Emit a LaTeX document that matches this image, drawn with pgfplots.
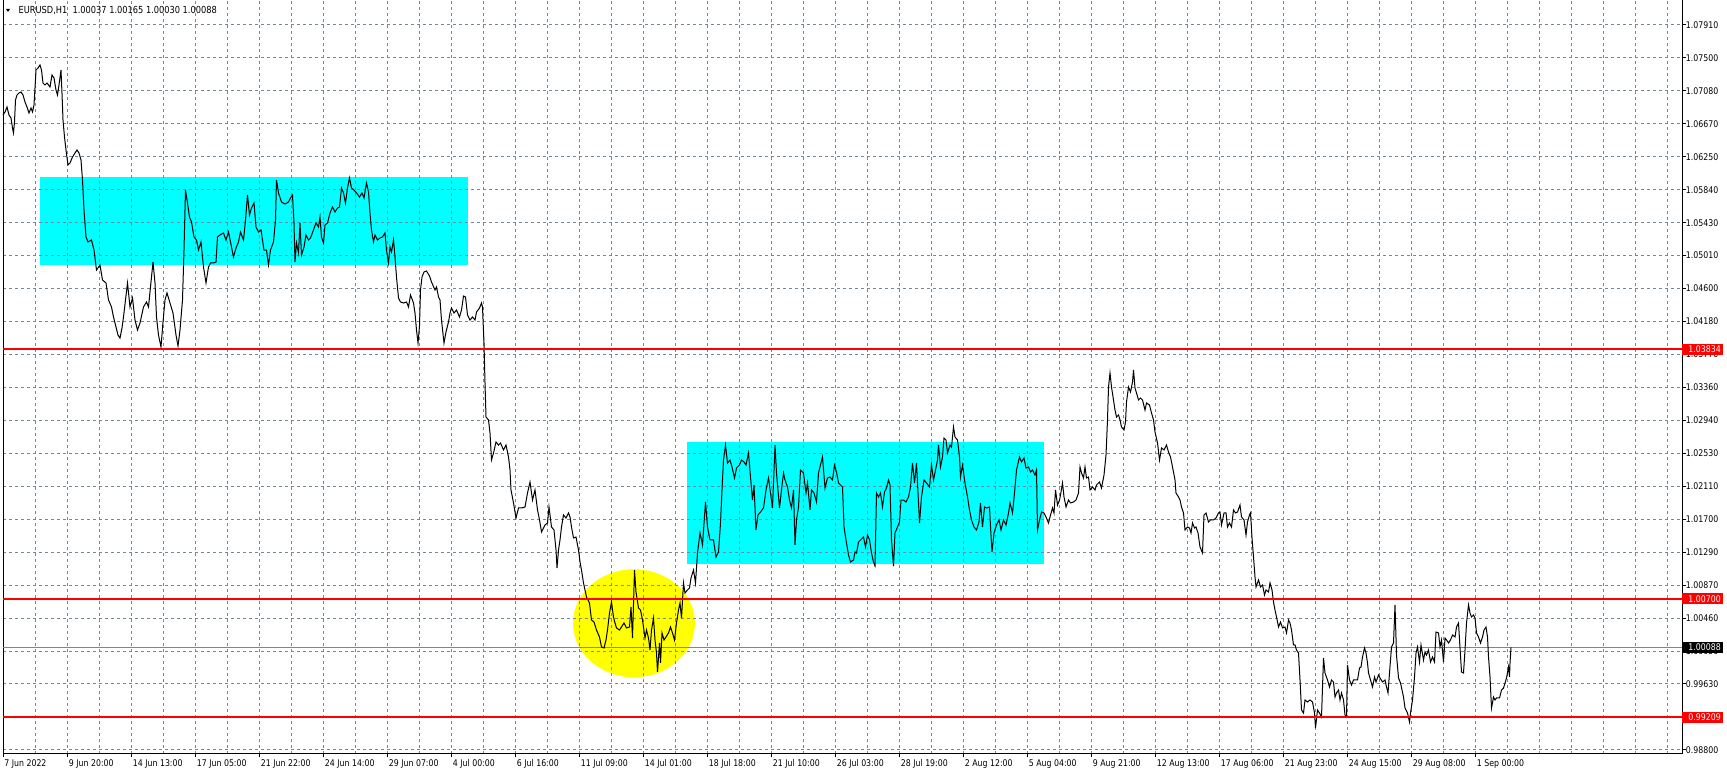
\documentclass[border=0pt]{standalone}
\usepackage{fontspec}
\usepackage{pgfplots}
\usepackage{pgfplotstable}
\pgfplotsset{compat=1.18}
\newfontfamily\mtfont{DejaVu Sans}[FakeStretch=0.85]
\newcommand\mtf{\mtfont\fontsize{4.6bp}{5.5bp}\selectfont}
\newcommand\mttf{\mtfont\fontsize{4.85bp}{5.5bp}\selectfont}
\definecolor{gridc}{RGB}{119,136,153}
\definecolor{mtcyan}{RGB}{0,255,255}
\definecolor{mtyellow}{RGB}{255,255,0}
\definecolor{mtred}{RGB}{255,0,0}

\pgfplotstableread{
x y
3 1.06779
5 1.06817
7 1.06879
9 1.06779
11 1.06741
12.5 1.06616
13.5 1.06553
14.5 1.06691
15.5 1.06967
17 1.07030
19 1.07055
21 1.07068
23 1.07030
25 1.06942
27 1.06879
29 1.06804
31 1.06867
32.5 1.06817
34 1.06905
35.3 1.07181
36 1.07344
38 1.07370
40 1.07407
41.5 1.07344
43 1.07181
45 1.07156
47 1.07181
50 1.07131
52 1.07282
54 1.07244
56 1.07093
57.5 1.07030
59 1.07156
61 1.07344
62 1.07055
63 1.06716
64.5 1.06502
66 1.06339
68 1.06151
70 1.06176
72.5 1.06251
75 1.06301
77 1.06339
79 1.06301
81 1.06213
82.5 1.05962
84 1.05585
86 1.05246
88 1.05183
91.5 1.05208
94 1.05082
96.5 1.04831
100 1.04894
102.5 1.04705
106 1.04668
108.5 1.04454
111.5 1.04366
113.5 1.04240
116 1.04115
118 1.04014
120 1.03976
122 1.04102
123.5 1.04240
127.5 1.04668
130 1.04366
132.5 1.04479
135 1.04202
137.5 1.04077
140 1.04165
143.5 1.04366
146.5 1.04429
148.5 1.04366
151.5 1.04743
153 1.04931
155 1.04668
156.5 1.04240
158.5 1.04014
161 1.03863
163 1.04177
165 1.04454
167 1.04542
170 1.04416
173 1.04290
176 1.04014
178 1.03876
180 1.04077
182.5 1.04454
184 1.05082
185.5 1.05836
187.5 1.05673
189.5 1.05497
191.5 1.05434
194 1.05246
196.5 1.05208
198.5 1.05082
201 1.05183
203.5 1.04869
206 1.04668
208.5 1.04869
210.5 1.04919
213.5 1.04919
216 1.04931
217.5 1.05246
220 1.05271
223.5 1.05296
226 1.05208
228.5 1.05308
230.5 1.05183
233.5 1.04994
236 1.05107
238.5 1.05183
240.5 1.05308
243.5 1.05208
245.5 1.05459
247.5 1.05773
249.5 1.05522
251.5 1.05610
254 1.05673
256 1.05371
258.5 1.05308
261 1.05334
264 1.05082
266.5 1.05082
268.5 1.04894
270.5 1.05082
273.5 1.05183
275.5 1.05459
276.5 1.05962
278.5 1.05799
281.5 1.05685
285 1.05660
288.5 1.05685
290.5 1.05736
292.5 1.05773
294 1.05422
295 1.04931
296.5 1.05170
298.5 1.05045
300 1.05422
301.5 1.05019
304 1.05120
306 1.05271
308.5 1.05208
310.5 1.05233
313.5 1.05334
316 1.05422
318.5 1.05371
320 1.05497
321.5 1.05246
323.5 1.05170
325 1.05396
327.5 1.05422
330 1.05547
332.5 1.05623
335 1.05560
337.5 1.05610
339.5 1.05623
341.5 1.05861
343.5 1.05799
345.5 1.05673
347.5 1.05861
349.5 1.05987
351.5 1.05861
354 1.05836
356.5 1.05799
359.5 1.05748
362 1.05799
364 1.05736
366.5 1.05924
368.5 1.05811
370 1.05547
371.5 1.05334
373.5 1.05183
375 1.05271
377.5 1.05208
380 1.05233
382.5 1.05246
385 1.05296
386.5 1.05082
388.5 1.04919
390 1.05120
391.5 1.05057
393.5 1.05208
395 1.04994
396.5 1.04743
398.5 1.04479
400.5 1.04429
403.5 1.04416
406.5 1.04429
408.5 1.04366
410.5 1.04517
413.5 1.04416
415 1.04290
416.5 1.04077
418 1.03913
419.5 1.04127
420.5 1.04580
422 1.04743
424 1.04806
426.5 1.04818
429.5 1.04755
431.5 1.04680
435 1.04580
436.5 1.04617
438.5 1.04492
440 1.04454
441.5 1.04202
444 1.03913
446 1.04052
448.5 1.04177
450 1.04290
451.5 1.04353
454 1.04290
456.5 1.04328
459.5 1.04240
461.5 1.04328
463.5 1.04504
465.5 1.04492
467.5 1.04265
470 1.04202
472.5 1.04240
475 1.04202
476.5 1.04303
479.5 1.04353
481.5 1.04416
482.5 1.04366
484 1.03913
485 1.03411
486 1.02983
488.5 1.02946
490 1.02782
491.5 1.02443
493.5 1.02531
496 1.02669
498.5 1.02631
500.5 1.02657
503.5 1.02569
506 1.02631
508.5 1.02481
510 1.02317
511 1.02066
513.5 1.01903
516 1.01714
518.5 1.01840
521.5 1.01840
525 1.01852
527.5 1.02028
530 1.02166
532.5 1.01940
535 1.02066
537.5 1.01815
539.5 1.01689
541.5 1.01538
545 1.01626
547.5 1.01651
549 1.01852
551.5 1.01601
554 1.01563
556 1.01312
557 1.01086
558.5 1.01312
560 1.01438
561.5 1.01601
563.5 1.01752
566 1.01714
568.5 1.01777
570 1.01727
571.5 1.01601
573.5 1.01463
576 1.01475
578.5 1.01312
580 1.01161
581.5 1.01060
583.5 1.00897
585 1.00809
586.5 1.00721
589.5 1.00646
591.5 1.00432
594 1.00407
596.5 1.00306
599.5 1.00218
601.5 1.00093
604 1.00080
606 1.00181
607.5 1.00306
609.5 1.00520
611.5 1.00658
613.5 1.00470
615 1.00394
616.5 1.00332
619.5 1.00306
621.5 1.00344
624 1.00394
626.5 1.00332
629.5 1.00344
631 1.00595
632.5 1.00206
634.5 1.01060
636 1.00784
638.5 1.00583
640.5 1.00558
642.5 1.00432
645 1.00206
646.5 1.00306
648.5 1.00206
650 1.00055
651.5 1.00306
653.5 1.00457
655 1.00181
656.5 1.00017
657.5 0.99779
659.5 1.00143
660.5 0.99892
662 1.00269
664 1.00181
666 1.00218
668.5 1.00269
670.5 1.00344
672.5 1.00269
674.5 1.00181
676.5 1.00394
678.5 1.00558
680 1.00646
681.5 1.00457
683.5 1.00897
685 1.00771
687.5 1.00809
689.5 1.00834
691 1.00960
693.5 1.01060
695.5 1.00897
697.5 1.01274
700 1.01526
702.5 1.01375
705.5 1.01915
707.5 1.01601
710 1.01438
713.5 1.01438
716 1.01224
718.5 1.01287
720.5 1.01651
722 1.02066
723.5 1.02443
725.5 1.02631
727.5 1.02405
730 1.02443
732 1.02355
734.5 1.02217
736.5 1.02342
739.5 1.02380
741.5 1.02443
744 1.02418
746 1.02380
748.5 1.02531
750.5 1.02229
752.5 1.01940
754 1.02129
756 1.01563
758 1.01752
760.5 1.01789
763.5 1.01840
766 1.02066
768.5 1.02217
770.5 1.02028
772.5 1.01840
775 1.02631
776.5 1.02280
779.5 1.01840
781.5 1.02066
783.5 1.02280
785 1.02192
787.5 1.02104
789.5 1.01940
791.5 1.01840
793.5 1.02066
795 1.01375
796.5 1.01689
798.5 1.01852
800.5 1.02317
803.5 1.02280
806 1.02028
807.5 1.02154
810 1.01815
811.5 1.02066
814 1.02028
816.5 1.01915
818.5 1.02280
820.5 1.02380
822.5 1.02481
825 1.02091
827.5 1.02217
830 1.02229
832.5 1.02192
834.5 1.02380
836.5 1.02292
838.5 1.02154
840.5 1.02129
842.5 1.02104
844 1.01601
846 1.01438
848.5 1.01249
850.5 1.01161
853.5 1.01186
855 1.01287
856.5 1.01274
858.5 1.01412
860.5 1.01438
863.5 1.01475
865.5 1.01350
867.5 1.01500
869.5 1.01438
871.5 1.01274
873.5 1.01161
875 1.01111
876.5 1.02028
878.5 1.01978
880.5 1.02028
882.5 1.01852
884.5 1.02041
886.5 1.02091
888.5 1.02192
890 1.02129
891.5 1.01438
893.5 1.01111
895 1.01526
897.5 1.01601
899.5 1.01664
901 1.01940
903.5 1.01940
906 1.01915
908.5 1.01978
910.5 1.02104
912.5 1.02405
914.5 1.02154
916.5 1.02405
918.5 1.01903
919.5 1.01651
921.5 1.01978
924 1.02192
926.5 1.02154
929.5 1.02104
931.5 1.02380
933.5 1.02192
935.5 1.02317
937.5 1.02443
938.5 1.02631
940.5 1.02355
942.5 1.02481
944 1.02719
946 1.02694
947.5 1.02531
950 1.02631
951.5 1.02606
953.5 1.02858
955 1.02732
957.5 1.02694
959.5 1.02481
960.5 1.02229
962.5 1.02380
965 1.02154
967.5 1.01978
969.5 1.01815
971.5 1.01689
974 1.01601
976.5 1.01563
979 1.01664
980.5 1.01903
982.5 1.01601
984.5 1.01852
986.5 1.01840
989.5 1.01852
990.5 1.01601
992 1.01287
994 1.01526
996.5 1.01626
999 1.01689
1001 1.01563
1003.5 1.01689
1006 1.01626
1008.5 1.01777
1010 1.01903
1012.5 1.01777
1014.5 1.02028
1016.5 1.02317
1019.5 1.02481
1021.5 1.02418
1024 1.02468
1026 1.02342
1028.5 1.02355
1030.5 1.02292
1032.5 1.02317
1035 1.02254
1036.5 1.02317
1037.5 1.01563
1039.5 1.01689
1041.5 1.01789
1044 1.01777
1046 1.01727
1048.5 1.01651
1050 1.01727
1052.5 1.01840
1054 1.01777
1055.5 1.02066
1057.5 1.01877
1059.5 1.01940
1060.5 1.02003
1062.5 1.02154
1064 1.01978
1066 1.01852
1068.5 1.01940
1070.5 1.01903
1073.5 1.01915
1076 1.01940
1078.5 1.02028
1080 1.02355
1081.5 1.02280
1083.5 1.02217
1085 1.02355
1086.5 1.02217
1088.5 1.02229
1090 1.02066
1092.5 1.02104
1095 1.02066
1096.5 1.02129
1099.5 1.02166
1101.5 1.02091
1104 1.02254
1106 1.02506
1107.5 1.02946
1108.5 1.03360
1110 1.03536
1111.5 1.03360
1113.5 1.03197
1115 1.03071
1116.5 1.02983
1118.5 1.03009
1120 1.02946
1121.5 1.02858
1124 1.02820
1125.5 1.02921
1126.5 1.03172
1128.5 1.03360
1130.5 1.03298
1132.5 1.03423
1133.5 1.03574
1135 1.03348
1136.5 1.03285
1138.5 1.03197
1140.5 1.03222
1142.5 1.03197
1145 1.03071
1146.5 1.03159
1149.5 1.03134
1151.5 1.03034
1153.5 1.02946
1155 1.02795
1157.5 1.02657
1159.5 1.02443
1161.5 1.02594
1164 1.02569
1166.5 1.02631
1168.5 1.02543
1170.5 1.02481
1172.5 1.02355
1175 1.02192
1176 1.02028
1178.5 1.01978
1180 1.01940
1181.5 1.01852
1183.5 1.01777
1185 1.01563
1187.5 1.01601
1189.5 1.01588
1191 1.01526
1192.5 1.01651
1194.5 1.01588
1196 1.01601
1198 1.01526
1200 1.01350
1202.5 1.01274
1204 1.01752
1206 1.01777
1208.5 1.01664
1210.5 1.01689
1213.5 1.01689
1216 1.01714
1218.5 1.01777
1220 1.01789
1221.5 1.01626
1224 1.01777
1226 1.01777
1227.5 1.01601
1229.5 1.01651
1231.5 1.01601
1233.5 1.01815
1235.5 1.01777
1237.5 1.01789
1240 1.01877
1241.5 1.01727
1244 1.01689
1246 1.01500
1247.5 1.01664
1249.5 1.01752
1250.5 1.01777
1252 1.01463
1253.5 1.01224
1255 1.00972
1256 1.00847
1258.5 1.00935
1260.5 1.00847
1262.5 1.00872
1264.5 1.00746
1266 1.00809
1268.5 1.00784
1270 1.00897
1272 1.00809
1273.5 1.00658
1275 1.00558
1276.5 1.00470
1278.5 1.00344
1280.5 1.00407
1282.5 1.00332
1285 1.00344
1286.5 1.00269
1288.5 1.00432
1290 1.00394
1291.5 1.00306
1293.5 1.00118
1295 1.00118
1296.5 1.00055
1298.5 1.00017
1300 0.99678
1301.5 0.99301
1303.5 0.99263
1305 0.99427
1307.5 0.99402
1310 0.99427
1312.5 0.99402
1314.5 0.99263
1315.5 0.99075
1317.5 0.99301
1319.5 0.99263
1321.5 0.99213
1322.5 0.99590
1323.5 0.99955
1325 0.99766
1327.5 0.99678
1329.5 0.99590
1331.5 0.99678
1333.5 0.99653
1335 0.99464
1336.5 0.99515
1338.5 0.99552
1340 0.99427
1341.5 0.99515
1343.5 0.99427
1345 0.99238
1346.5 0.99213
1347.5 0.99867
1349.5 0.99678
1351.5 0.99615
1353.5 0.99678
1355.5 0.99678
1357.5 0.99678
1359.5 0.99829
1361 0.99841
1362.5 0.99967
1364.5 1.00080
1366 1.00017
1367.5 0.99892
1368.5 0.99766
1370.5 0.99678
1372.5 0.99590
1374.5 0.99716
1376 0.99653
1378.5 0.99741
1380 0.99703
1382.5 0.99653
1385 0.99678
1386.5 0.99590
1388 0.99515
1389.5 0.99766
1391.5 1.00093
1393.5 1.00143
1395 1.00621
1396.5 0.99992
1398.5 0.99703
1400.5 0.99640
1403.5 0.99464
1405 0.99326
1407.5 0.99263
1409.5 0.99150
1410.5 0.99263
1412.5 0.99427
1414.5 0.99716
1416 1.00017
1417.5 1.00093
1419.5 0.99904
1421 1.00118
1423.5 0.99929
1425 1.00030
1426.5 0.99992
1428.5 1.00055
1430.5 0.99904
1432.5 0.99967
1434.5 0.99904
1436 1.00281
1438.5 1.00269
1440 1.00093
1441.5 1.00181
1443.5 0.99904
1445 1.00206
1446.5 1.00181
1448.5 1.00143
1450.5 1.00181
1452.5 1.00244
1455 1.00218
1456.5 1.00344
1458.5 1.00394
1460 1.00080
1461.5 0.99779
1463.5 0.99766
1465 1.00055
1466.5 1.00394
1468.5 1.00621
1470 1.00520
1471.5 1.00470
1473.5 1.00495
1475 1.00457
1476.5 1.00269
1478.5 1.00218
1480.5 1.00143
1482.5 1.00218
1484 1.00306
1486 1.00344
1487.5 1.00218
1488.5 0.99967
1490 0.99716
1491.5 0.99326
1493.5 0.99464
1495 0.99427
1496.5 0.99452
1499.5 0.99452
1501.5 0.99552
1503.5 0.99577
1505 0.99640
1506.5 0.99703
1508.5 0.99841
1509.5 0.99716
1510 0.99892
1511 1.00088
}\pricedata

\begin{document}
\begin{tikzpicture}
\begin{axis}[
  at={(1.5bp,10bp)}, anchor=south west,
  scale only axis, width=839.5bp, height=377bp,
  xmin=3, xmax=1682, ymin=0.987479, ymax=1.082242,
  set layers=standard,
  clip=false,
  axis line style={black, line width=0.5bp},
  tick align=outside,
  major tick length=1.75bp,
  minor tick length=0pt,
  tick style={black, line width=0.5bp},
  xtick pos=bottom, ytick pos=right,
  yticklabel pos=right,
  xtick={3,67.5,131.5,195.5,259.5,323.5,387.5,451.5,515.5,579.5,643.5,707.5,771.5,835.5,899.5,963.5,1027.5,1091.5,1155.5,1219.5,1283.5,1347.5,1411.5,1475.5},
  xticklabels={7 Jun 2022,9 Jun 20:00,14 Jun 13:00,17 Jun 05:00,21 Jun 22:00,24 Jun 14:00,29 Jun 07:00,4 Jul 00:00,6 Jul 16:00,11 Jul 09:00,14 Jul 01:00,18 Jul 18:00,21 Jul 10:00,26 Jul 03:00,28 Jul 19:00,2 Aug 12:00,5 Aug 04:00,9 Aug 21:00,12 Aug 13:00,17 Aug 06:00,21 Aug 23:00,24 Aug 15:00,29 Aug 08:00,1 Sep 00:00},
  minor xtick={35.5,67.5,...,1667.5},
  ytick={1.079100,1.074959,1.070818,1.066677,1.062536,1.058395,1.054254,1.050113,1.045972,1.041831,1.037690,1.033549,1.029408,1.025267,1.021126,1.016985,1.012844,1.008703,1.004562,1.000421,0.996280,0.992139,0.987998},
  yticklabels={1.07910,1.07500,1.07080,1.06670,1.06250,1.05840,1.05430,1.05010,1.04600,1.04180,1.03770,1.03360,1.02940,1.02530,1.02110,1.01700,1.01290,1.00870,1.00460,1.00050,0.99630,0.99220,0.98800},
  xmajorgrids=false, xminorgrids=true, ymajorgrids=true,
  grid style={gridc, line width=0.5bp, dash pattern=on 1.5bp off 1.5bp},
  minor grid style={gridc, line width=0.5bp, dash pattern=on 1.5bp off 1.5bp},
  tick label style={font=\mtf, inner sep=0pt},
  xticklabel style={anchor=north west, xshift=0.5bp, yshift=-0.65bp},
  yticklabel style={anchor=west, xshift=0bp},
]
\begin{pgfonlayer}{axis background}
\fill[mtcyan] (axis cs:40,1.06000) rectangle (axis cs:468,1.04894);
\fill[mtcyan] (axis cs:687,1.02669) rectangle (axis cs:1044,1.01136);
\fill[mtyellow] (axis cs:634,1.00391) ellipse [x radius=30.5bp, y radius=27bp];
\end{pgfonlayer}
\addplot[gridc, line width=0.5bp, mark=none] coordinates {(3,1.00088) (1682,1.00088)};
\addplot[black, line width=0.5bp, mark=none] table[x=x, y=y] {\pricedata};
\addplot[mtred, line width=1bp, mark=none] coordinates {(3,1.03834) (1682,1.03834)};
\addplot[mtred, line width=1bp, mark=none] coordinates {(3,1.00700) (1682,1.00700)};
\addplot[mtred, line width=1bp, mark=none] coordinates {(3,0.99209) (1682,0.99209)};
\node[fill=mtred, anchor=west, minimum width=20.5bp, minimum height=5.5bp, inner sep=0pt] at (axis cs:1682,1.03834) {};
\node[font=\mtf, text=white, anchor=west, inner sep=0pt] at ([xshift=3bp]axis cs:1682,1.03834) {1.03834};
\node[fill=mtred, anchor=west, minimum width=20.5bp, minimum height=5.5bp, inner sep=0pt] at (axis cs:1682,1.00700) {};
\node[font=\mtf, text=white, anchor=west, inner sep=0pt] at ([xshift=3bp]axis cs:1682,1.00700) {1.00700};
\node[fill=mtred, anchor=west, minimum width=20.5bp, minimum height=5.5bp, inner sep=0pt] at (axis cs:1682,0.99209) {};
\node[font=\mtf, text=white, anchor=west, inner sep=0pt] at ([xshift=3bp]axis cs:1682,0.99209) {0.99209};
\node[fill=black, anchor=west, minimum width=20.5bp, minimum height=5.5bp, inner sep=0pt] at (axis cs:1682,1.00088) {};
\node[font=\mtf, text=white, anchor=west, inner sep=0pt] at ([xshift=3bp]axis cs:1682,1.00088) {1.00088};
\end{axis}
\fill[black] (3bp,382.5bp) -- (5bp,382.5bp) -- (4bp,381bp) -- cycle;
\node[font=\mttf, anchor=base west, inner sep=0pt] at (9.15bp,380.35bp) {EURUSD,H1\ \ 1.00037 1.00165 1.00030 1.00088};
\pgfresetboundingbox
\path[use as bounding box] (0,0) rectangle (863.5bp,387bp);
\end{tikzpicture}
\end{document}
